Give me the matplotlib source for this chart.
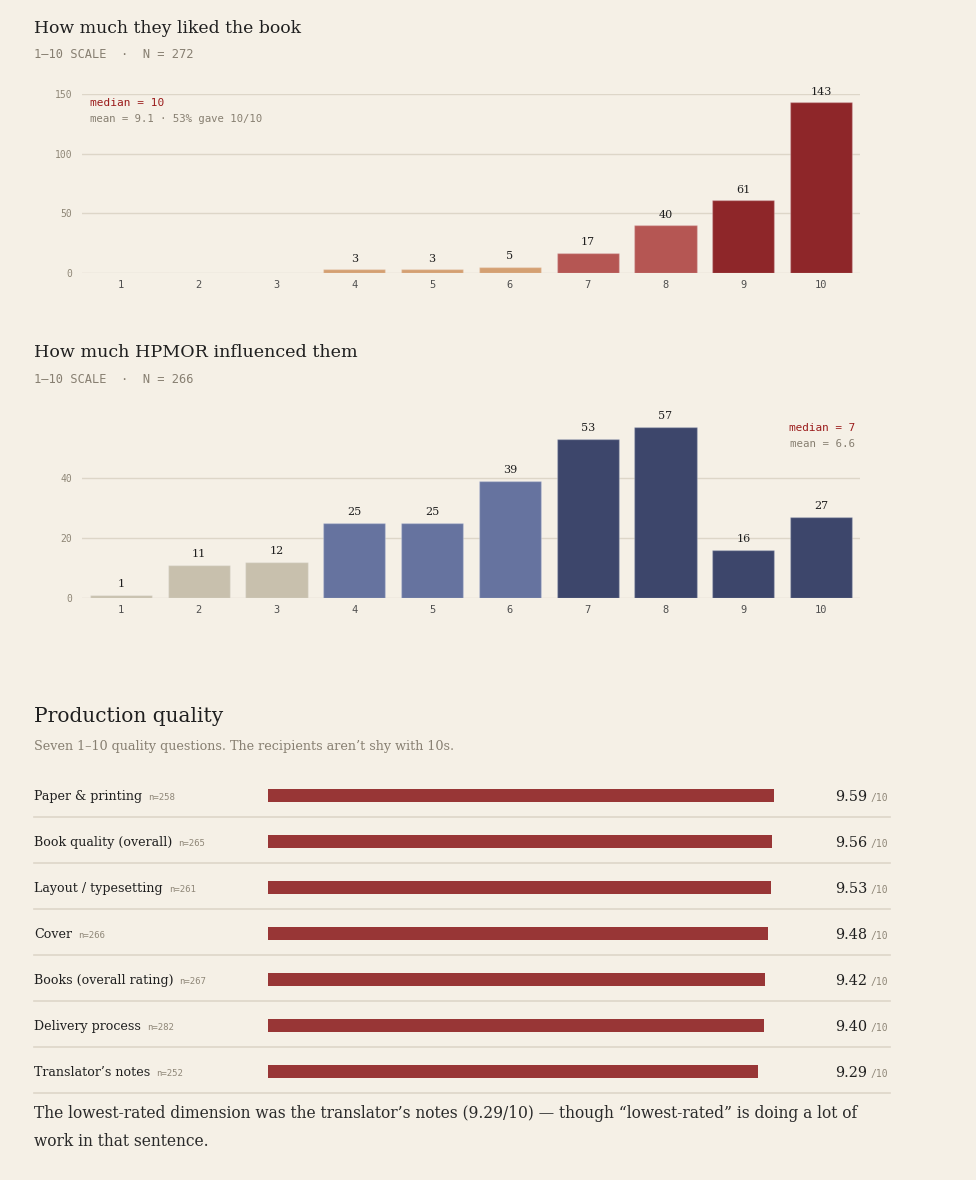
import matplotlib
matplotlib.use("Agg")
import matplotlib.pyplot as plt
from matplotlib.lines import Line2D

# ---------------- data ----------------
scores = list(range(1, 11))
liked_counts = [0, 0, 0, 3, 3, 5, 17, 40, 61, 143]
influence_counts = [1, 11, 12, 25, 25, 39, 53, 57, 16, 27]

quality_labels = ["Paper & printing", "Book quality (overall)", "Layout / typesetting",
                  "Cover", "Books (overall rating)", "Delivery process", "Translator\u2019s notes"]
quality_n = [258, 265, 261, 266, 267, 282, 252]
quality_scores = [9.59, 9.56, 9.53, 9.48, 9.42, 9.40, 9.29]

# ---------------- style ----------------
W, H = 976, 1180
BG = "#f5f0e6"
INK = "#1f1f1f"
GRAY = "#877f71"
GRID = "#ddd6c8"
SERIF = "DejaVu Serif"
MONO = "DejaVu Sans Mono"

liked_colors = ["#d4a072"] * 6 + ["#b55653"] * 2 + ["#8e2629"] * 2
infl_colors = ["#c8c0ad"] * 3 + ["#66739f"] * 3 + ["#3d466b"] * 4
QBAR = "#983636"

fig = plt.figure(figsize=(W / 100, H / 100), dpi=100, facecolor=BG)
renderer = fig.canvas.get_renderer()


def fx(x):
    return x / W


def fy(y):
    return 1 - y / H


def ftext(x, y, s, width=None, **kw):
    t = fig.text(fx(x), fy(y), s, **kw)
    if width is not None:
        w = t.get_window_extent(renderer).width
        t.set_fontsize(t.get_fontsize() * width / w)
    return t


def axes_px(l, t, r, b):
    ax = fig.add_axes([fx(l), fy(b), (r - l) / W, (b - t) / H])
    ax.set_facecolor(BG)
    return ax


def bar_chart(ax, counts, colors, ymax, yticks):
    ax.bar(scores, counts, width=0.8, color=colors,
           edgecolor=(1, 1, 1, 0.25), linewidth=1, zorder=3)
    ax.set_xlim(0.5, 10.5)
    ax.set_ylim(0, ymax)
    ax.set_yticks(yticks)
    ax.set_xticks(scores)
    ax.yaxis.grid(True, color=GRID, linewidth=1, zorder=0)
    ax.set_axisbelow(True)
    for s in ax.spines.values():
        s.set_visible(False)
    ax.tick_params(axis="y", length=0, pad=7, labelsize=7, labelcolor="#8f8777")
    ax.tick_params(axis="x", length=0, pad=5, labelsize=7.5, labelcolor="#4f4f4f")
    for lab in ax.get_xticklabels() + ax.get_yticklabels():
        lab.set_family(MONO)
    for x, c in zip(scores, counts):
        if c > 0:
            ax.annotate(str(c), (x, c), xytext=(0, 4), textcoords="offset points",
                        ha="center", va="bottom", fontsize=8, family=SERIF,
                        color=INK, annotation_clip=False)


# ---------------- chart 1 ----------------
ftext(34, 33, "How much they liked the book", width=268, family=SERIF,
      fontsize=13, color=INK, va="baseline")
ftext(34, 58, "1\u201310 SCALE  \u00b7  N = 272", width=161, family=MONO,
      fontsize=8, color=GRAY, va="baseline")
ax1 = axes_px(82, 94, 860, 273)
bar_chart(ax1, liked_counts, liked_colors, 150, [0, 50, 100, 150])
ftext(90, 106, "median = 10", width=74, family=MONO, fontsize=8,
      color="#9b1c1c", va="baseline")
ftext(90, 122, "mean = 9.1 \u00b7 53% gave 10/10", width=174, family=MONO,
      fontsize=7, color=GRAY, va="baseline")

# ---------------- chart 2 ----------------
ftext(34, 357, "How much HPMOR influenced them", width=322, family=SERIF,
      fontsize=13, color=INK, va="baseline")
ftext(34, 383, "1\u201310 SCALE  \u00b7  N = 266", width=161, family=MONO,
      fontsize=8, color=GRAY, va="baseline")
ax2 = axes_px(82, 418, 860, 598)
bar_chart(ax2, influence_counts, infl_colors, 60, [0, 20, 40])
ftext(855, 431, "median = 7", width=67, family=MONO, fontsize=8,
      color="#9b1c1c", va="baseline", ha="right")
ftext(855, 447, "mean = 6.6", width=65, family=MONO, fontsize=7,
      color=GRAY, va="baseline", ha="right")

# ---------------- production quality ----------------
ftext(34, 722, "Production quality", width=190, family=SERIF, fontsize=16,
      color=INK, va="baseline")
ftext(34, 750, "Seven 1\u201310 quality questions. The recipients aren\u2019t shy with 10s.",
      width=424, family=SERIF, fontsize=10, color=GRAY, va="baseline")

row0, rstep = 795.5, 46
ax3 = axes_px(268, row0 - rstep / 2, 795.6, row0 + rstep * 6.5)
ax3.set_xlim(0, 10)
ax3.set_ylim(len(quality_labels) - 0.5, -0.5)
ax3.barh(range(len(quality_scores)), quality_scores, height=0.29, color=QBAR, zorder=3)
ax3.axis("off")

label_widths = [108, 139, 129, 37, 140, 109, 118]
for i, (lab, n, sc) in enumerate(zip(quality_labels, quality_n, quality_scores)):
    yb = row0 + i * rstep + 4.5
    t = ftext(34, yb, lab, family=SERIF, fontsize=10, color=INK, va="baseline")
    if i == 0:
        w = t.get_window_extent(renderer).width
        lab_size = 10 * label_widths[0] / w
    t.set_fontsize(lab_size)
    w = t.get_window_extent(renderer).width
    ftext(34 + w + 6, yb, f"n={n}", family=MONO, fontsize=6.5, color="#8f8778",
          va="baseline")
    ftext(867, yb + 1, f"{sc:.2f}", width=32, family=SERIF, fontsize=11, color=INK,
          va="baseline", ha="right")
    ftext(871, yb + 1, "/10", family=MONO, fontsize=7, color="#8f8778", va="baseline")
    ysep = row0 + i * rstep + 21
    fig.add_artist(Line2D([fx(34), fx(890)], [fy(ysep), fy(ysep)],
                          transform=fig.transFigure, color=GRID, linewidth=1.2))

ftext(34, 1118, "The lowest-rated dimension was the translator\u2019s notes (9.29/10) \u2014 "
      "though \u201clowest-rated\u201d is doing a lot of", width=828, family=SERIF,
      fontsize=11, color="#2a2a2a", va="baseline")
t_last = fig.texts[-1]
ftext(34, 1146, "work in that sentence.", family=SERIF, fontsize=t_last.get_fontsize(),
      color="#2a2a2a", va="baseline")

fig.savefig("out.png", dpi=100, facecolor=BG)
